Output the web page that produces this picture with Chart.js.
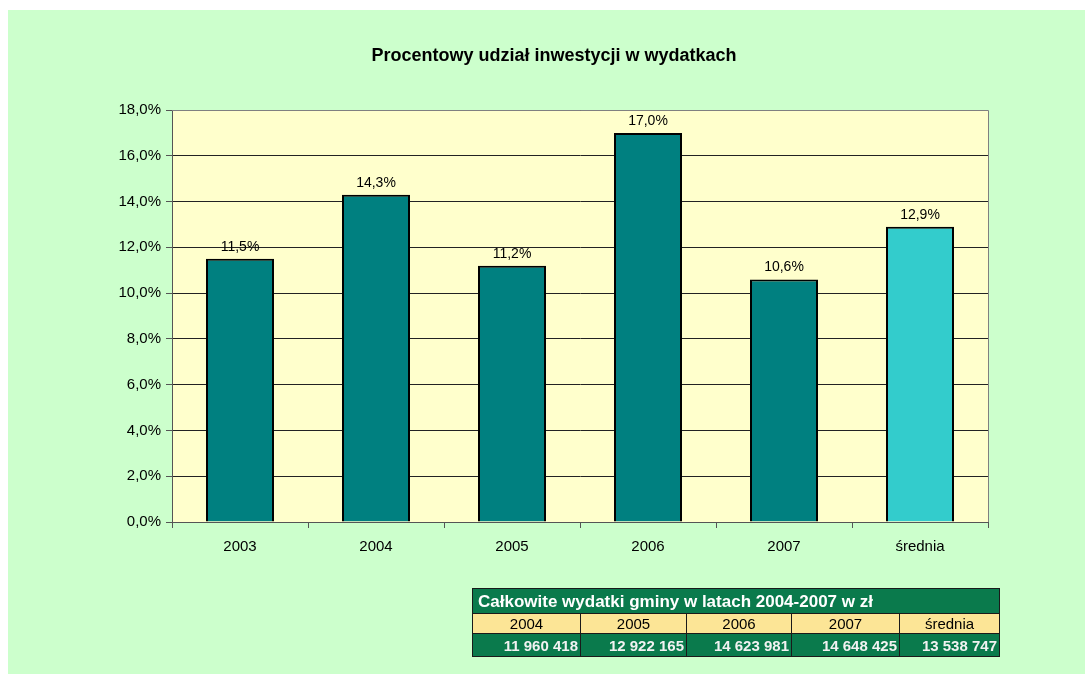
<!DOCTYPE html>
<html>
<head>
<meta charset="utf-8">
<script src="https://cdn.jsdelivr.net/npm/chart.js@4"></script>
<style>
  html, body { margin: 0; padding: 0; background: #ffffff; }
  #wrap { position: absolute; left: 8px; top: 10px; width: 1077px; height: 664px; background: #CCFFCC; }
  #chart { position: absolute; left: 0; top: 0; }
  #tbl { position: absolute; left: 464px; top: 578px; border-collapse: collapse; border: 1px solid #1a1a1a;
         font-family: "Liberation Sans", Arial, sans-serif; }
  #tbl td { padding: 0; border: 1px solid #1a1a1a; line-height: 1; }
  #tbl .head td { background: #0A7A4C; color: #ffffff; font-weight: bold; font-size: 17px; height: 24px; padding-left: 5px; }
  #tbl .years td { background: #FCE596; color: #000; font-size: 15px; text-align: center; height: 19px; }
  #tbl .vals td { background: #0A7A4C; color: #f2f2f2; font-weight: bold; font-size: 15px; text-align: right; height: 22px; padding-right: 2px; }
</style>
</head>
<body>
<div id="wrap">
  <canvas id="chart" width="1077" height="664"></canvas>
  <table id="tbl">
    <tr class="head"><td colspan="5" id="tblTitle"></td></tr>
    <tr class="years" id="tblYears"></tr>
    <tr class="vals" id="tblVals"></tr>
  </table>
</div>
<script>
var categories = ["2003", "2004", "2005", "2006", "2007", "średnia"];
var shares = [11.5, 14.3, 11.2, 17.0, 10.6, 12.9];
var barColors = ["#008080", "#008080", "#008080", "#008080", "#008080", "#33CCCC"];
var yTicks = [0, 2, 4, 6, 8, 10, 12, 14, 16, 18];

var tableTitle = "Całkowite wydatki gminy w latach 2004-2007 w zł";
var tableYears = ["2004", "2005", "2006", "2007", "średnia"];
var tableValues = ["11 960 418", "12 922 165", "14 623 981", "14 648 425", "13 538 747"];
var colWidths = [107, 105, 104, 107, 99];

// table below the chart
document.getElementById("tblTitle").textContent = tableTitle;
var yr = document.getElementById("tblYears");
var vr = document.getElementById("tblVals");
tableYears.forEach(function (y, i) {
  var td = document.createElement("td");
  td.textContent = y;
  td.style.width = colWidths[i] + "px";
  yr.appendChild(td);
  var tv = document.createElement("td");
  tv.textContent = tableValues[i];
  vr.appendChild(tv);
});

function pct(v) {
  return v.toFixed(1).replace(".", ",") + "%";
}

var plotBg = {
  id: "plotBg",
  beforeDraw: function (chart) {
    var a = chart.chartArea, ctx = chart.ctx;
    ctx.save();
    ctx.fillStyle = "#FFFFCC";
    ctx.fillRect(a.left, a.top, a.right - a.left, a.bottom - a.top);
    ctx.restore();
  },
  afterDraw: function (chart) {
    var a = chart.chartArea, ctx = chart.ctx;
    ctx.save();
    ctx.strokeStyle = "#808080";
    ctx.lineWidth = 1;
    ctx.beginPath();
    ctx.moveTo(a.left, a.top + 0.5);
    ctx.lineTo(a.right + 0.5, a.top + 0.5);
    ctx.lineTo(a.right + 0.5, a.bottom);
    ctx.stroke();
    ctx.restore();
  }
};

var barLabels = {
  id: "barLabels",
  afterDatasetsDraw: function (chart) {
    var ctx = chart.ctx;
    var meta = chart.getDatasetMeta(0);
    ctx.save();
    ctx.font = "14px 'Liberation Sans', Arial, sans-serif";
    ctx.fillStyle = "#000";
    ctx.textAlign = "center";
    ctx.textBaseline = "bottom";
    meta.data.forEach(function (bar, i) {
      ctx.fillText(pct(shares[i]), bar.x, bar.y - 5);
    });
    ctx.restore();
  }
};

Chart.defaults.font.family = "'Liberation Sans', Arial, sans-serif";
Chart.defaults.color = "#000";

new Chart(document.getElementById("chart"), {
  type: "bar",
  data: {
    labels: categories,
    datasets: [{
      data: shares,
      backgroundColor: barColors,
      borderColor: "#000",
      borderWidth: 2,
      categoryPercentage: 1,
      barPercentage: 0.5
    }]
  },
  options: {
    responsive: false,
    animation: false,
    devicePixelRatio: 1,
    layout: { padding: { left: 15, right: 0, top: 0, bottom: 0 } },
    plugins: {
      legend: { display: false },
      tooltip: { enabled: false },
      title: {
        display: true,
        text: "Procentowy udział inwestycji w wydatkach",
        color: "#000",
        font: { size: 18, weight: "bold" },
        padding: { top: 35, bottom: 43.4 }
      }
    },
    scales: {
      x: {
        grid: { display: true, drawOnChartArea: false, tickLength: 6, tickColor: "#555", offset: true },
        border: { color: "#555", width: 1 },
        ticks: { font: { size: 15 }, padding: 10, maxRotation: 0 },
        afterFit: function (s) { s.height = 152; }
      },
      y: {
        min: 0,
        max: 18,
        afterBuildTicks: function (s) { s.ticks = yTicks.map(function (v) { return { value: v }; }); },
        grid: { color: "#222", lineWidth: 1, tickLength: 6, tickColor: "#555" },
        border: { color: "#555", width: 1 },
        ticks: { font: { size: 15 }, padding: 5, callback: function (v) { return pct(v); } },
        afterFit: function (s) { s.width = 149; }
      },
      // empty right-hand spacer so the plot ends where the original does
      y2: {
        position: "right",
        grid: { display: false },
        border: { display: false },
        ticks: { display: false },
        afterFit: function (s) { s.width = 97; }
      }
    }
  },
  plugins: [plotBg, barLabels]
});
</script>
</body>
</html>
